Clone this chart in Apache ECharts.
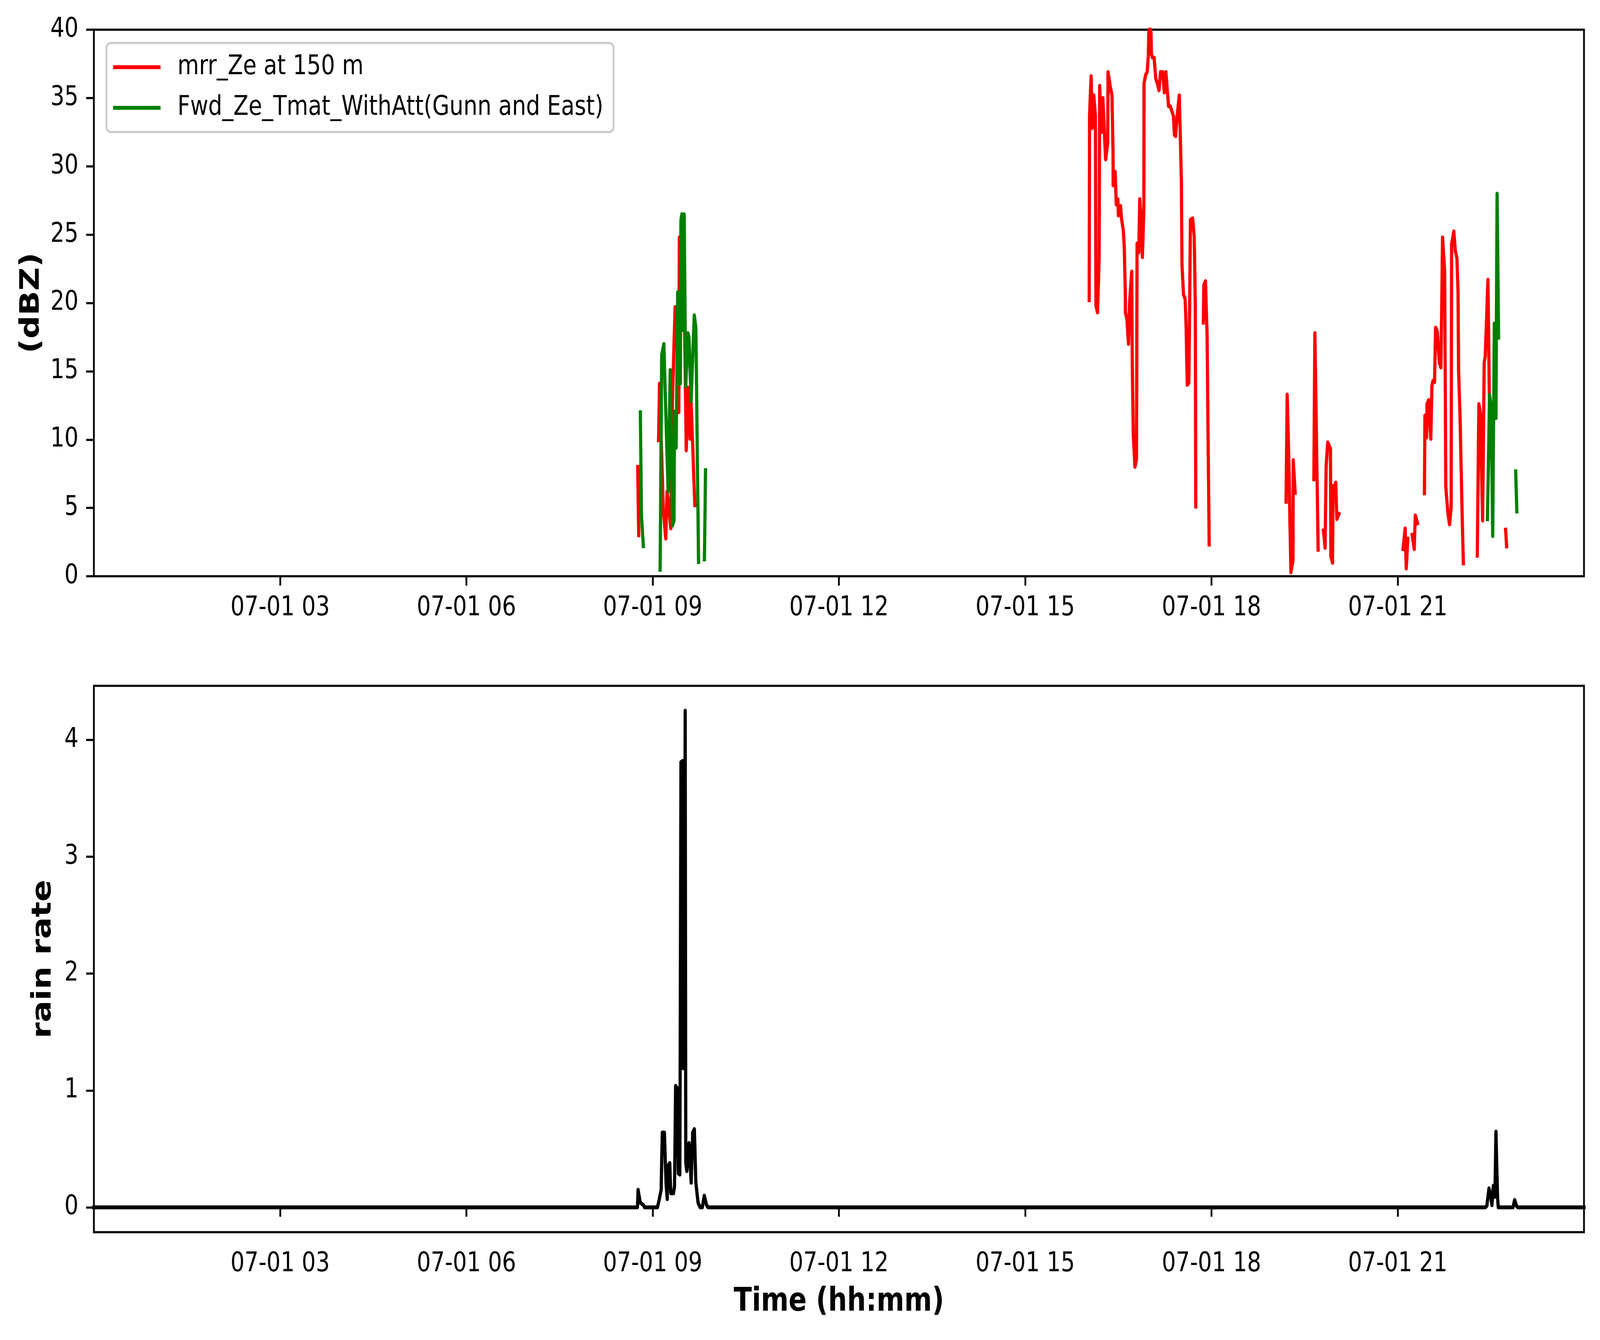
<!DOCTYPE html>
<html>
<head>
<meta charset="utf-8">
<script src="https://cdn.jsdelivr.net/npm/echarts@6/dist/echarts.min.js"></script>
<style>
html,body{margin:0;padding:0;background:#fff;overflow:hidden;}
#c{width:4995px;height:3430px;transform-origin:0 0;}
</style>
</head>
<body>
<div id="c"></div>
<script>
// ---- data (hours of 07-01, null = gap) ----
const mrrTime = [8.759,8.776,null,
9.094,9.111,9.172,9.211,9.232,9.25,9.292,9.318,9.361,9.40,9.421,9.430,9.47,9.507,9.541,9.567,9.602,9.619,9.679,null,
16.031,16.036,16.062,16.079,16.105,16.131,16.140,16.165,16.191,16.200,16.226,16.251,16.295,16.329,16.334,16.372,16.398,16.415,16.417,16.449,16.467,16.492,16.501,16.535,16.553,16.578,16.596,16.612,16.614,16.639,16.664,16.682,16.716,16.725,16.742,16.768,16.793,16.802,16.828,16.845,16.862,16.888,16.912,16.914,16.940,16.965,16.983,16.991,17.009,17.026,17.034,17.051,17.077,17.103,17.129,17.155,17.180,17.215,17.241,17.266,17.292,17.309,17.335,17.361,17.387,17.404,17.421,17.447,17.482,17.516,17.525,17.550,17.576,17.593,17.610,17.636,17.662,17.697,17.722,17.740,17.748,null,
17.869,17.877,17.903,17.929,17.963,null,
19.202,19.219,19.245,19.279,19.313,19.317,19.348,null,
19.649,19.666,19.718,null,
19.804,19.830,19.847,19.873,19.916,19.924,19.950,19.959,19.976,20.002,20.019,20.053,null,
21.085,21.120,21.137,21.163,null,
21.232,21.266,21.283,21.318,null,
21.430,21.438,21.464,21.472,21.498,21.533,21.550,21.567,21.593,21.610,21.636,21.670,21.696,21.722,21.756,21.774,21.808,21.834,21.860,21.868,21.903,21.928,21.954,21.971,21.980,22.006,22.032,22.057,null,
22.281,22.307,22.333,22.367,22.393,22.410,22.453,22.488,null,
22.737,22.754];
const mrrZe = [8.0,3.0,null,
9.95,14.1,4.8,2.75,6.2,5.5,3.5,12.8,19.7,16.0,12.0,24.8,22.0,20.7,9.2,13.8,10.05,12.8,5.2,null,
20.2,33.7,36.6,32.8,35.2,33.7,19.8,19.3,23.3,35.9,32.5,35.0,30.5,31.7,36.9,35.8,35.2,30.9,28.6,29.6,27.2,27.6,26.4,27.1,26.1,25.4,24.1,20.8,19.3,18.8,17.0,20.1,22.3,15.3,10.25,8.0,8.6,24.35,23.7,27.6,26.4,23.35,27.1,36.06,36.7,36.9,38.1,39.8,40.2,39.8,38.2,37.95,37.95,36.4,36.06,35.56,36.9,36.9,35.4,36.9,35.4,34.4,34.4,34.05,33.7,32.3,32.2,33.7,35.2,28.9,22.8,20.6,20.3,18.06,14.0,14.15,26.1,26.2,24.86,19.8,5.1,null,
18.56,21.3,21.6,17.8,2.32,null,
5.45,13.3,8.84,0.28,1.18,8.5,6.1,null,
7.1,17.8,1.94,null,
3.35,2.07,8.07,9.8,9.35,1.43,0.98,6.6,6.54,6.86,4.18,4.56,null,
1.98,3.5,0.56,2.74,null,
3.03,1.98,4.45,3.88,null,
6.07,11.76,10.15,12.6,12.9,10.05,13.9,14.3,14.2,18.2,17.93,15.65,15.27,24.8,22.3,6.54,4.64,3.79,5.0,24.3,25.24,23.8,23.25,20.78,15.1,11.3,5.6,0.94,null,
1.5,12.6,11.86,4.07,15.65,16.1,21.7,8.8,null,
3.41,2.18];

const fwdTime = [8.802,8.819,8.850,null,
9.120,9.146,9.180,9.249,9.283,9.318,9.344,9.352,9.378,9.404,9.421,9.445,9.455,9.470,9.49,9.507,9.533,9.567,9.585,9.619,9.670,9.696,9.739,null,
9.834,9.851,null,
22.445,22.479,22.505,22.530,22.556,22.582,22.600,22.625,null,
22.900,22.918];
const fwdZe = [12.0,4.5,2.2,null,
0.47,16.2,17.0,6.2,15.1,3.7,4.07,12.05,9.4,20.8,14.1,14.1,26.0,26.5,18.0,26.5,13.9,17.8,17.5,12.8,19.1,18.2,1.04,null,
1.23,7.77,null,
4.17,13.28,12.4,2.93,18.5,11.57,28.0,17.46,null,
7.68,4.74];

const rainTime = [0,8.755,8.765,8.80,8.85,8.87,
9.077,9.103,9.137,9.155,9.189,9.215,9.235,9.241,9.275,9.292,9.335,9.352,9.37,9.395,9.413,9.438,9.456,9.481,9.49,9.507,9.524,9.533,9.55,9.585,9.62,9.645,9.671,9.696,9.731,9.765,9.80,9.831,9.868,9.89,
22.41,22.436,22.47,22.49,22.517,22.54,22.565,22.582,22.608,22.62,22.857,22.883,22.918,22.94,24];
const rainRate = [0,0,0.15,0.04,0.02,0,
0,0.06,0.15,0.64,0.64,0.21,0.07,0.35,0.38,0.12,0.12,0.18,1.04,1.02,0.29,0.28,3.81,3.82,1.19,1.19,4.25,0.38,0.31,0.55,0.21,0.64,0.67,0.21,0.04,0,0,0.1,0.02,0,
0,0.013,0.163,0.12,0.018,0.185,0.09,0.648,0.08,0,0,0.063,0.007,0,0];

const xTickHours = [3,6,9,12,15,18,21];
const rainTicks = [0,1,2,3,4];
const seriesNames = ['mrr_Ze at 150 m','Fwd_Ze_Tmat_WithAtt(Gunn and East)'];

// ---- fit the 4995x3430 design into the actual viewport ----
const W = 4995, H = 3430;
const el = document.getElementById('c');
const sx = (window.innerWidth || W) / W, sy = (window.innerHeight || H) / H;
el.style.transform = 'scale(' + sx + ',' + sy + ')';

// ---- build ----
function pairs(t, v){ return t.map((x,i)=> x===null ? ['-','-'] : [x, v[i]]); }
const FONT = 'DejaVu Sans';
const tickFont = {fontSize:69, fontFamily:FONT, color:'#000'};
const nameFont = {fontSize:83, fontWeight:'bold', fontFamily:FONT, color:'#000'};
const tickStyle = {show:true, length:24, lineStyle:{width:5.5,color:'#000'}};
function xAxis(idx){
  return {
    type:'value', gridIndex:idx, min:0, max:24,
    axisLine:{show:false},
    axisTick:Object.assign({customValues:xTickHours}, tickStyle),
    axisLabel:Object.assign({margin:48, customValues:xTickHours,
      formatter:v=>'07-01 '+String(Math.round(v)).padStart(2,'0')}, tickFont),
    splitLine:{show:false}
  };
}
const lineBase = {type:'line', showSymbol:false, symbol:'none', connectNulls:false, clip:true, animation:false};

const option = {
  backgroundColor:'#ffffff',
  animation:false,
  grid:[
    {left:293, top:76, width:4652, height:1399, show:true, borderColor:'#000', borderWidth:5.5, backgroundColor:'transparent'},
    {left:293, top:1755.5, width:4652, height:1398.5, show:true, borderColor:'#000', borderWidth:5.5, backgroundColor:'transparent'}
  ],
  xAxis:[
    xAxis(0),
    Object.assign(xAxis(1), {name:'Time (hh:mm)', nameLocation:'middle', nameGap:138, nameTextStyle:nameFont})
  ],
  yAxis:[
    {type:'value', gridIndex:0, min:0, max:40, interval:5,
     name:'(dBZ)', nameLocation:'middle', nameGap:152, nameTextStyle:nameFont,
     axisLine:{show:false}, axisTick:tickStyle,
     axisLabel:Object.assign({margin:48}, tickFont),
     splitLine:{show:false}},
    {type:'value', gridIndex:1, min:-0.2125, max:4.4625,
     name:'rain rate', nameLocation:'middle', nameGap:115, nameTextStyle:nameFont,
     axisLine:{show:false},
     axisTick:Object.assign({customValues:rainTicks}, tickStyle),
     axisLabel:Object.assign({margin:48, customValues:rainTicks}, tickFont),
     splitLine:{show:false}}
  ],
  legend:{
    data:seriesNames, orient:'vertical', left:332, top:110,
    itemWidth:148, itemHeight:10, icon:'rect', itemGap:24,
    padding:[22,32,22,21],
    backgroundColor:'rgba(255,255,255,0.8)', borderColor:'#cccccc', borderWidth:6, borderRadius:14,
    textStyle:{fontSize:69, fontFamily:FONT, color:'#000', padding:[0,0,0,48], lineHeight:80}
  },
  series:[
    Object.assign({}, lineBase, {name:seriesNames[0], xAxisIndex:0, yAxisIndex:0,
      data:pairs(mrrTime, mrrZe), itemStyle:{color:'#ff0000'},
      lineStyle:{color:'#ff0000', width:10, join:'round', cap:'square'}}),
    Object.assign({}, lineBase, {name:seriesNames[1], xAxisIndex:0, yAxisIndex:0,
      data:pairs(fwdTime, fwdZe), itemStyle:{color:'#008000'},
      lineStyle:{color:'#008000', width:10, join:'round', cap:'square'}}),
    Object.assign({}, lineBase, {name:'rain rate', xAxisIndex:1, yAxisIndex:1,
      data:pairs(rainTime, rainRate), itemStyle:{color:'#000'},
      lineStyle:{color:'#000', width:10, join:'round', cap:'square'}})
  ]
};
const chart = echarts.init(el, null, {renderer:'canvas', width:W, height:H, devicePixelRatio:1});
chart.setOption(option);
</script>
</body>
</html>
